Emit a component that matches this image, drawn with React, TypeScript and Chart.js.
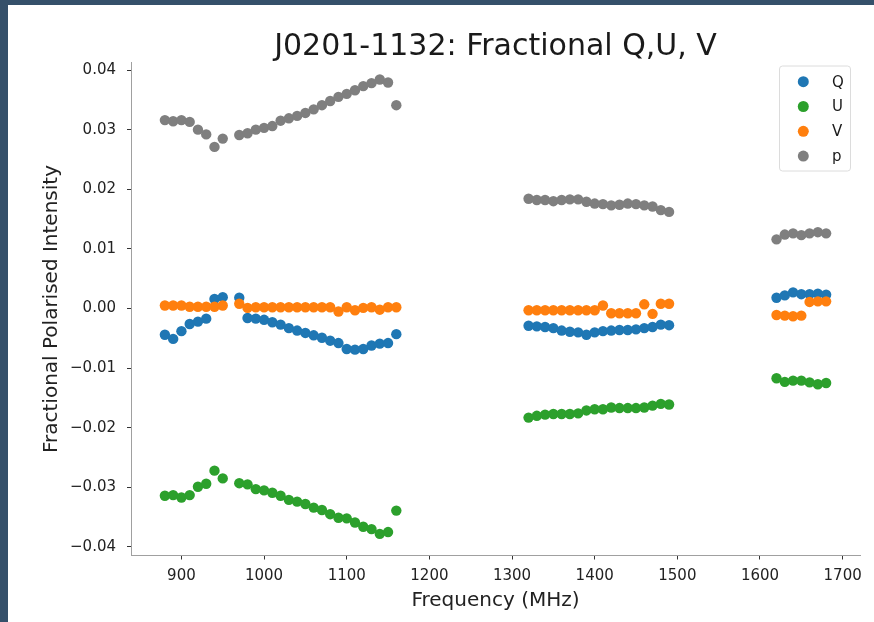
import React, { useEffect, useRef } from 'react';
import { Chart, registerables } from 'chart.js';

Chart.register(...registerables);

const FONT = "'DejaVu Sans', 'Liberation Sans', sans-serif";

const titleText = 'J0201-1132: Fractional Q,U, V';
const xAxisLabel = 'Frequency (MHz)';
const yAxisLabel = 'Fractional Polarised Intensity';

const freqs = [
  880, 890, 900, 910, 920, 930, 940, 950,
  970, 980, 990, 1000, 1010, 1020, 1030, 1040, 1050, 1060,
  1070, 1080, 1090, 1100, 1110, 1120, 1130, 1140, 1150, 1160,
  1320, 1330, 1340, 1350, 1360, 1370, 1380, 1390, 1400,
  1410, 1420, 1430, 1440, 1450, 1460, 1470, 1480, 1490,
  1620, 1630, 1640, 1650, 1660, 1670, 1680,
];

const qValues = [
  -0.0044, -0.0051, -0.0038, -0.0026, -0.0022, -0.0017, 0.0016, 0.0019,
  0.0018, -0.0016, -0.0017, -0.0019, -0.0023, -0.0027, -0.0033, -0.0037, -0.0041, -0.0045,
  -0.0049, -0.0054, -0.0058, -0.0068, -0.0069, -0.0068, -0.0062, -0.0059, -0.0058, -0.0043,
  -0.0029, -0.0030, -0.0031, -0.0033, -0.0037, -0.0039, -0.0040, -0.0044, -0.0040,
  -0.0038, -0.0037, -0.0036, -0.0036, -0.0035, -0.0033, -0.0031, -0.0027, -0.0028,
  0.0018, 0.0022, 0.0027, 0.0024, 0.0024, 0.0025, 0.0023,
];

const uValues = [
  -0.0314, -0.0313, -0.0317, -0.0313, -0.0299, -0.0294, -0.0272, -0.0285,
  -0.0293, -0.0295, -0.0303, -0.0305, -0.0309, -0.0314, -0.0321, -0.0324, -0.0328, -0.0334,
  -0.0338, -0.0345, -0.0351, -0.0352, -0.0359, -0.0366, -0.0370, -0.0378, -0.0375, -0.0339,
  -0.0183, -0.0180, -0.0178, -0.0177, -0.0177, -0.0177, -0.0176, -0.0171, -0.0169,
  -0.0169, -0.0166, -0.0167, -0.0167, -0.0167, -0.0166, -0.0163, -0.0160, -0.0161,
  -0.0117, -0.0123, -0.0121, -0.0121, -0.0124, -0.0127, -0.0125,
];

const vValues = [
  0.0005, 0.0005, 0.0005, 0.0003, 0.0003, 0.0003, 0.0003, 0.0005,
  0.0008, 0.0001, 0.0002, 0.0002, 0.0002, 0.0002, 0.0002, 0.0002, 0.0002, 0.0002,
  0.0002, 0.0002, -0.0005, 0.0002, -0.0003, 0.0001, 0.0002, -0.0002, 0.0002, 0.0002,
  -0.0003, -0.0003, -0.0003, -0.0003, -0.0003, -0.0003, -0.0003, -0.0003, -0.0003,
  0.0005, -0.0008, -0.0008, -0.0008, -0.0008, 0.0007, -0.0009, 0.0008, 0.0008,
  -0.0011, -0.0012, -0.0013, -0.0012, 0.0011, 0.0012, 0.0012,
];

const pValues = [
  0.0316, 0.0314, 0.0316, 0.0313, 0.0300, 0.0292, 0.0271, 0.0285,
  0.0291, 0.0294, 0.0300, 0.0303, 0.0306, 0.0315, 0.0319, 0.0323, 0.0328, 0.0334,
  0.0341, 0.0348, 0.0355, 0.0360, 0.0366, 0.0373, 0.0378, 0.0384, 0.0379, 0.0341,
  0.0184, 0.0182, 0.0182, 0.0180, 0.0182, 0.0183, 0.0183, 0.0179, 0.0176,
  0.0175, 0.0173, 0.0174, 0.0176, 0.0175, 0.0173, 0.0171, 0.0165, 0.0162,
  0.0116, 0.0124, 0.0126, 0.0123, 0.0126, 0.0128, 0.0126,
];

const seriesNames = ['Q', 'U', 'V', 'p'];
const seriesColors = ['#1f77b4', '#2ca02c', '#ff7f0e', '#7f7f7f'];

const xTicks = [900, 1000, 1100, 1200, 1300, 1400, 1500, 1600, 1700];
const xTickLabels = ['900', '1000', '1100', '1200', '1300', '1400', '1500', '1600', '1700'];
const yTicks = [-0.04, -0.03, -0.02, -0.01, 0, 0.01, 0.02, 0.03, 0.04];
const yTickLabels = ['\u22120.04', '\u22120.03', '\u22120.02', '\u22120.01', '0.00', '0.01', '0.02', '0.03', '0.04'];

const toPoints = (vals: number[]) => freqs.map((f, i) => ({ x: f, y: vals[i] }));

const overlayPlugin = {
  id: 'overlay',
  afterDraw(chart: any) {
    const { ctx, chartArea } = chart;
    ctx.save();
    // title
    ctx.font = `30px ${FONT}`;
    ctx.fillStyle = '#1a1a1a';
    ctx.textAlign = 'center';
    ctx.textBaseline = 'alphabetic';
    ctx.fillText(titleText, (chartArea.left + chartArea.right) / 2, 50);

    // legend
    const bx = 771.5, by = 61, bw = 71, bh = 105;
    ctx.beginPath();
    if (ctx.roundRect) ctx.roundRect(bx, by, bw, bh, 3);
    else ctx.rect(bx, by, bw, bh);
    ctx.fillStyle = 'rgba(255,255,255,0.85)';
    ctx.fill();
    ctx.strokeStyle = '#dcdcdc';
    ctx.lineWidth = 1;
    ctx.stroke();
    ctx.font = `15px ${FONT}`;
    ctx.textAlign = 'left';
    ctx.textBaseline = 'middle';
    seriesNames.forEach((name, i) => {
      const cy = 76.7 + i * 24.8;
      ctx.beginPath();
      ctx.arc(795.3, cy, 5.5, 0, Math.PI * 2);
      ctx.fillStyle = seriesColors[i];
      ctx.fill();
      ctx.fillStyle = '#1a1a1a';
      ctx.fillText(name, 824, cy + 1);
    });
    ctx.restore();
  },
};

export default function App() {
  const canvasRef = useRef<HTMLCanvasElement | null>(null);

  useEffect(() => {
    if (!canvasRef.current) return;
    const seriesValues = [qValues, uValues, vValues, pValues];
    const drawOrder = [3, 2, 1, 0];
    const chart = new Chart(canvasRef.current, {
      type: 'scatter',
      data: {
        datasets: seriesNames.map((name, i) => ({
          label: name,
          data: toPoints(seriesValues[i]),
          backgroundColor: seriesColors[i],
          borderColor: seriesColors[i],
          borderWidth: 0,
          pointRadius: 5.2,
          pointHoverRadius: 5.2,
          order: drawOrder[i],
        })),
      },
      options: {
        responsive: false,
        animation: false,
        events: [],
        devicePixelRatio: 1,
        layout: { padding: { top: 57.5, right: 14, left: 0, bottom: 0 } },
        plugins: {
          legend: { display: false },
          tooltip: { enabled: false },
          title: { display: false },
        },
        scales: {
          x: {
            type: 'linear',
            min: 839,
            max: 1721,
            afterBuildTicks: (s: any) => {
              s.ticks = xTicks.map((v) => ({ value: v }));
            },
            afterFit: (s: any) => {
              s.height = 66.5;
              s.paddingLeft = 0;
              s.paddingRight = 0;
            },
            grid: { display: true, drawOnChartArea: false, drawTicks: true, tickLength: 4, color: '#333', lineWidth: 1 },
            border: { display: true, color: '#a0a0a0', width: 1 },
            ticks: {
              font: { family: FONT, size: 15 },
              color: '#222',
              padding: 8,
              maxRotation: 0,
              autoSkip: false,
              callback: (v: any) => xTickLabels[xTicks.indexOf(Number(v))] ?? '',
            },
            title: {
              display: true,
              text: xAxisLabel,
              font: { family: FONT, size: 20 },
              color: '#222',
              padding: { top: 0, bottom: 9 },
            },
          },
          y: {
            type: 'linear',
            min: -0.04143,
            max: 0.04126,
            afterBuildTicks: (s: any) => {
              s.ticks = yTicks.map((v) => ({ value: v }));
            },
            afterFit: (s: any) => {
              s.width = 123;
              s.paddingTop = 0;
              s.paddingBottom = 0;
            },
            grid: { display: true, drawOnChartArea: false, drawTicks: true, tickLength: 4, color: '#333', lineWidth: 1 },
            border: { display: true, color: '#a0a0a0', width: 1 },
            ticks: {
              font: { family: FONT, size: 15 },
              color: '#222',
              padding: 11,
              autoSkip: false,
              callback: (v: any) => {
                const idx = yTicks.findIndex((t) => Math.abs(t - Number(v)) < 1e-9);
                return idx >= 0 ? yTickLabels[idx] : '';
              },
            },
            title: {
              display: true,
              text: yAxisLabel,
              font: { family: FONT, size: 20 },
              color: '#222',
              padding: { top: 32, bottom: 0 },
            },
          },
        },
      },
      plugins: [overlayPlugin],
    } as any);
    return () => chart.destroy();
  }, []);

  return (
    <div style={{ position: 'fixed', left: 0, top: 0, width: 874, height: 622, background: '#35506a' }}>
      <div style={{ position: 'absolute', left: 8, top: 5, width: 866, height: 617, background: '#ffffff' }}>
        <canvas ref={canvasRef} width={866} height={617} style={{ width: 866, height: 617, display: 'block' }} />
      </div>
    </div>
  );
}
